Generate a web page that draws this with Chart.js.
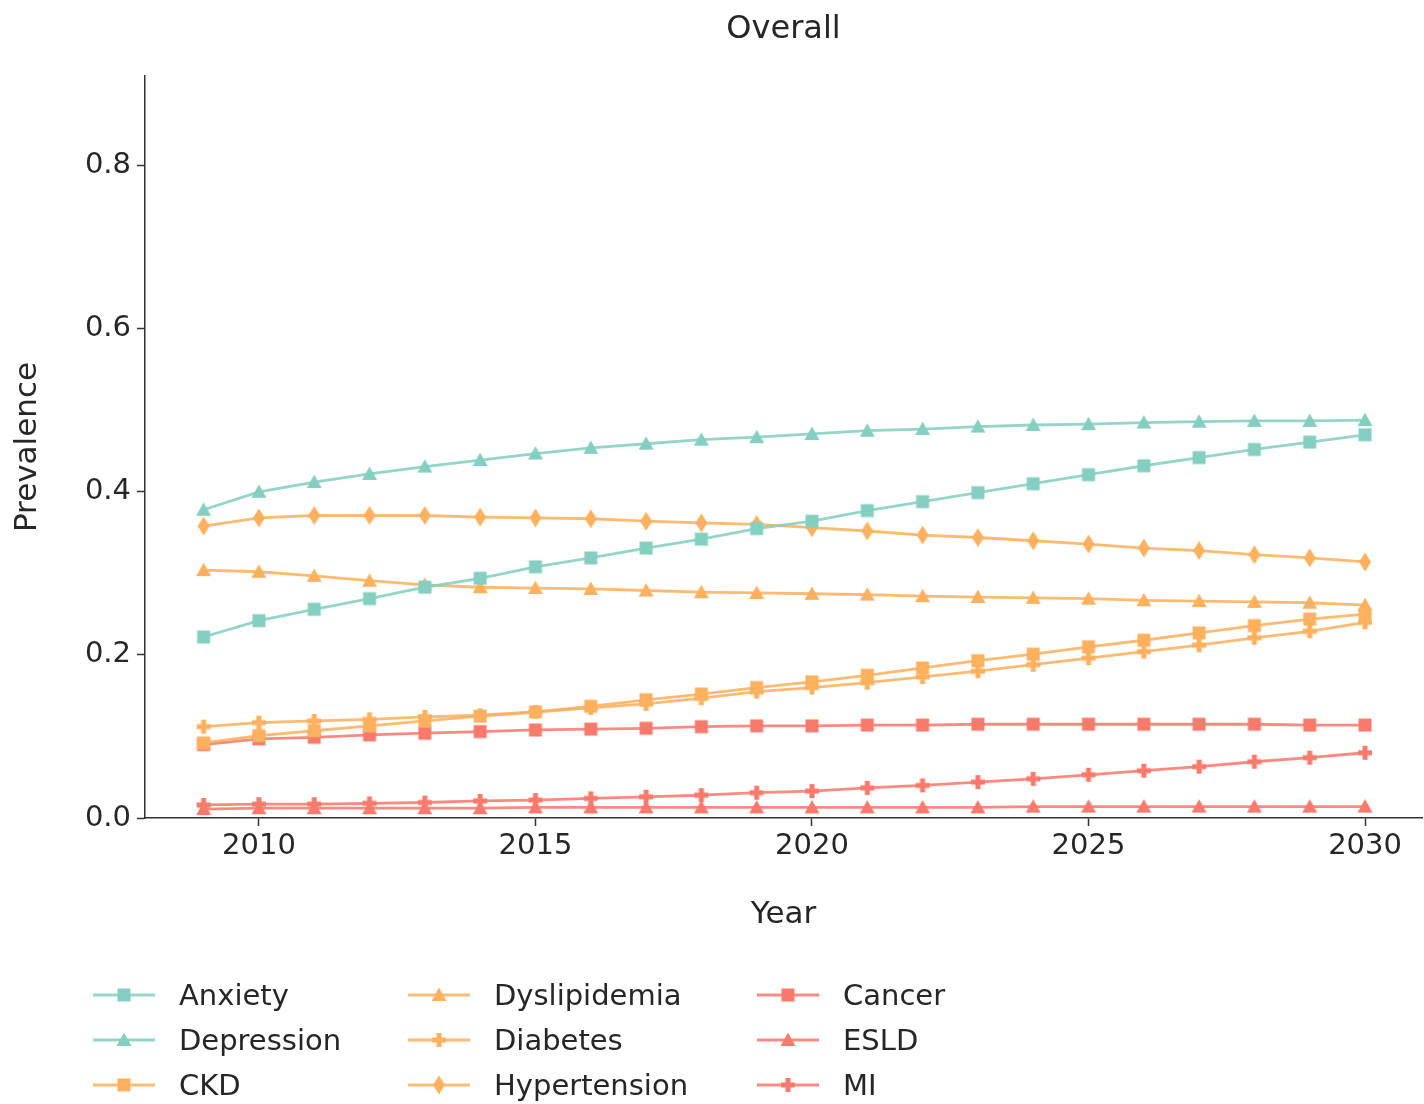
<!DOCTYPE html>
<html>
<head>
<meta charset="utf-8">
<script src="https://cdn.jsdelivr.net/npm/chart.js@4.4.1/dist/chart.umd.min.js"></script>
<style>
  html, body { margin: 0; padding: 0; background: #fff; }
  #wrap { position: relative; width: 1424px; height: 1104px; }
  #c { position: absolute; left: 0; top: 0; }
  .lg { position: absolute; display: flex; align-items: center; font-family: "DejaVu Sans", sans-serif; font-size: 29px; color: #262626; white-space: nowrap; }
  .lg canvas { margin-right: 24px; }
</style>
</head>
<body>
<div id="wrap">
  <canvas id="c" width="1424" height="1104"></canvas>
</div>
<script>
const years = [2009,2010,2011,2012,2013,2014,2015,2016,2017,2018,2019,2020,2021,2022,2023,2024,2025,2026,2027,2028,2029,2030];
const xTicks = [2010, 2015, 2020, 2025, 2030];
const yTicks = [0, 0.2, 0.4, 0.6, 0.8];

const anxiety      = [0.222,0.242,0.256,0.269,0.283,0.294,0.308,0.319,0.331,0.342,0.355,0.364,0.377,0.388,0.399,0.410,0.421,0.432,0.442,0.452,0.461,0.470];
const depression   = [0.378,0.400,0.412,0.422,0.431,0.439,0.447,0.454,0.459,0.464,0.467,0.471,0.475,0.477,0.480,0.482,0.483,0.485,0.486,0.487,0.487,0.488];
const ckd          = [0.092,0.101,0.107,0.113,0.119,0.125,0.130,0.137,0.145,0.152,0.160,0.167,0.175,0.184,0.193,0.201,0.210,0.218,0.227,0.236,0.244,0.250];
const dyslipidemia = [0.304,0.302,0.297,0.291,0.286,0.283,0.282,0.281,0.279,0.277,0.276,0.275,0.274,0.272,0.271,0.270,0.269,0.267,0.266,0.265,0.264,0.261];
const diabetes     = [0.112,0.117,0.119,0.121,0.124,0.126,0.130,0.135,0.140,0.147,0.155,0.160,0.166,0.173,0.180,0.188,0.196,0.204,0.212,0.221,0.229,0.240];
const hypertension = [0.358,0.368,0.371,0.371,0.371,0.369,0.368,0.367,0.364,0.362,0.360,0.356,0.352,0.347,0.344,0.340,0.336,0.331,0.328,0.323,0.319,0.314];
const cancer       = [0.090,0.097,0.099,0.102,0.104,0.106,0.108,0.109,0.110,0.112,0.113,0.113,0.114,0.114,0.115,0.115,0.115,0.115,0.115,0.115,0.114,0.114];
const esld         = [0.011,0.012,0.012,0.012,0.012,0.012,0.013,0.013,0.013,0.013,0.013,0.013,0.013,0.013,0.013,0.014,0.014,0.014,0.014,0.014,0.014,0.014];
const mi           = [0.016,0.017,0.017,0.018,0.019,0.021,0.022,0.024,0.026,0.028,0.031,0.033,0.037,0.040,0.044,0.048,0.053,0.058,0.063,0.069,0.074,0.080];

const TEAL = '#84cfbf', ORANGE = '#fdb15f', RED = '#f77a6d';

const seriesDefs = [
  { label: 'Anxiety',      values: anxiety,      color: TEAL,   shape: 'square'   },
  { label: 'Depression',   values: depression,   color: TEAL,   shape: 'triangle' },
  { label: 'CKD',          values: ckd,          color: ORANGE, shape: 'square'   },
  { label: 'Dyslipidemia', values: dyslipidemia, color: ORANGE, shape: 'triangle' },
  { label: 'Diabetes',     values: diabetes,     color: ORANGE, shape: 'plus'     },
  { label: 'Hypertension', values: hypertension, color: ORANGE, shape: 'thindiamond' },
  { label: 'Cancer',       values: cancer,       color: RED,    shape: 'square'   },
  { label: 'ESLD',         values: esld,         color: RED,    shape: 'triangle' },
  { label: 'MI',           values: mi,           color: RED,    shape: 'plus'     }
];

function drawShape(ctx, shape, cx, cy, color) {
  ctx.fillStyle = color;
  ctx.beginPath();
  if (shape === 'square') {
    ctx.rect(cx - 6.5, cy - 6.5, 13, 13);
  } else if (shape === 'triangle') {
    ctx.moveTo(cx, cy - 7.5);
    ctx.lineTo(cx + 7.5, cy + 6);
    ctx.lineTo(cx - 7.5, cy + 6);
    ctx.closePath();
  } else if (shape === 'thindiamond') {
    ctx.moveTo(cx, cy - 9.5);
    ctx.lineTo(cx + 6, cy);
    ctx.lineTo(cx, cy + 9.5);
    ctx.lineTo(cx - 6, cy);
    ctx.closePath();
  } else if (shape === 'plus') {
    const a = 7, t = 2.5;
    ctx.moveTo(cx - t, cy - a); ctx.lineTo(cx + t, cy - a);
    ctx.lineTo(cx + t, cy - t); ctx.lineTo(cx + a, cy - t);
    ctx.lineTo(cx + a, cy + t); ctx.lineTo(cx + t, cy + t);
    ctx.lineTo(cx + t, cy + a); ctx.lineTo(cx - t, cy + a);
    ctx.lineTo(cx - t, cy + t); ctx.lineTo(cx - a, cy + t);
    ctx.lineTo(cx - a, cy - t); ctx.lineTo(cx - t, cy - t);
    ctx.closePath();
  }
  ctx.fill();
}

function makeMarker(shape, color) {
  const c = document.createElement('canvas');
  c.width = 22; c.height = 22;
  drawShape(c.getContext('2d'), shape, 11, 11, color);
  return c;
}

function makeLegendIcon(shape, color) {
  const c = document.createElement('canvas');
  c.width = 62; c.height = 22;
  const ctx = c.getContext('2d');
  ctx.globalAlpha = 0.85;
  ctx.strokeStyle = color;
  ctx.lineWidth = 2.8;
  ctx.beginPath(); ctx.moveTo(0, 11); ctx.lineTo(62, 11); ctx.stroke();
  ctx.globalAlpha = 1;
  drawShape(ctx, shape, 31, 11, color);
  return c;
}

function withAlpha(hex, a) {
  const r = parseInt(hex.slice(1,3),16), g = parseInt(hex.slice(3,5),16), b = parseInt(hex.slice(5,7),16);
  return `rgba(${r},${g},${b},${a})`;
}

const datasets = seriesDefs.map(s => ({
  label: s.label,
  data: years.map((yr, i) => ({ x: yr, y: s.values[i] })),
  borderColor: withAlpha(s.color, 0.88),
  backgroundColor: s.color,
  borderWidth: 2.8,
  pointStyle: makeMarker(s.shape, s.color),
  pointRadius: 6,
  pointHoverRadius: 6,
  tension: 0,
  fill: false,
  clip: false
}));

const AX = '#333333', TXT = '#262626';
const FONT = '"DejaVu Sans", sans-serif';

new Chart(document.getElementById('c'), {
  type: 'line',
  data: { datasets },
  options: {
    responsive: false,
    animation: false,
    devicePixelRatio: 1,
    layout: { autoPadding: false, padding: { left: 0, right: 2, top: 0, bottom: 166 } },
    plugins: {
      legend: { display: false },
      tooltip: { enabled: false },
      title: {
        display: true, text: 'Overall', fullSize: false,
        color: TXT, font: { family: FONT, size: 32, weight: 'normal' },
        padding: { top: 10, bottom: 27.6 }
      }
    },
    scales: {
      x: {
        type: 'linear', min: 2007.94, max: 2031.03,
        afterBuildTicks: s => { s.ticks = xTicks.map(v => ({ value: v })); },
        afterFit: s => { s.height = 120; s.paddingLeft = 0; s.paddingRight = 0; },
        ticks: { color: TXT, font: { family: FONT, size: 29 }, padding: 3, maxRotation: 0, callback: v => String(v) },
        grid: { display: true, drawOnChartArea: false, drawTicks: true, tickLength: 8, tickColor: AX, tickWidth: 1.5 },
        border: { display: true, color: AX, width: 1.5 },
        title: { display: true, text: 'Year', color: TXT, font: { family: FONT, size: 31 }, padding: { top: 0, bottom: 4 } }
      },
      y: {
        type: 'linear', min: 0, max: 0.91,
        afterBuildTicks: s => { s.ticks = yTicks.map(v => ({ value: v })); },
        afterFit: s => { s.width = 145; s.paddingTop = 0; s.paddingBottom = 0; },
        ticks: { color: TXT, font: { family: FONT, size: 29 }, padding: 6, callback: v => v.toFixed(1) },
        grid: { display: true, drawOnChartArea: false, drawTicks: true, tickLength: 8, tickColor: AX, tickWidth: 1.5 },
        border: { display: true, color: AX, width: 1.5 },
        title: { display: true, text: 'Prevalence', color: TXT, font: { family: FONT, size: 31 }, padding: { top: 9, bottom: 0 } }
      }
    }
  }
});

// Legend (3 columns, column-major like the reference)
const colX = [93, 408, 757];
const rowY = [995, 1040, 1085];
const wrap = document.getElementById('wrap');
seriesDefs.forEach((s, i) => {
  const col = Math.floor(i / 3), row = i % 3;
  const d = document.createElement('div');
  d.className = 'lg';
  d.style.left = colX[col] + 'px';
  d.style.top = (rowY[row] - 20) + 'px';
  d.style.height = '40px';
  d.appendChild(makeLegendIcon(s.shape, s.color));
  const t = document.createElement('span');
  t.textContent = s.label;
  d.appendChild(t);
  wrap.appendChild(d);
});
</script>
</body>
</html>
